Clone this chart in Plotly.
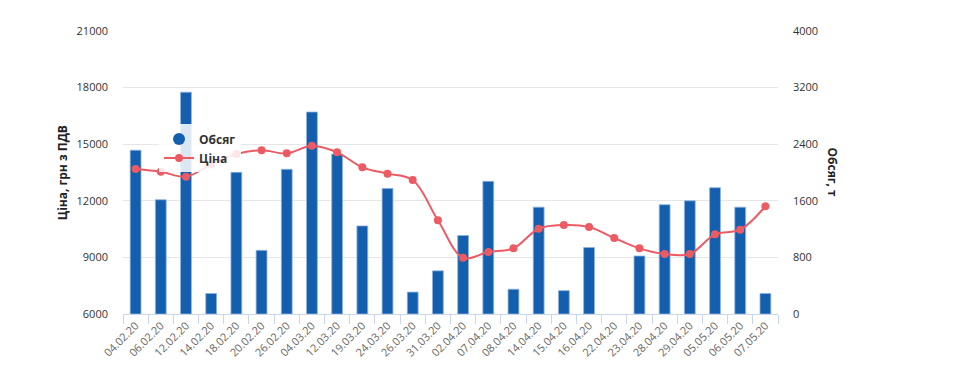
import plotly.graph_objects as go

dates = ["04.02.20", "06.02.20", "12.02.20", "14.02.20", "18.02.20", "20.02.20",
         "26.02.20", "04.03.20", "12.03.20", "19.03.20", "24.03.20", "26.03.20",
         "31.03.20", "02.04.20", "07.04.20", "08.04.20", "14.04.20", "15.04.20",
         "16.04.20", "22.04.20", "23.04.20", "28.04.20", "29.04.20", "05.05.20",
         "06.05.20", "07.05.20"]

volume = [2315, 1615, 3135, 290, 2005, 900, 2045, 2855, 2260, 1245, 1775, 310,
          610, 1110, 1875, 350, 1510, 330, 940, None, 820, 1545, 1600, 1785,
          1510, 290]

price = [13690, 13545, 13280, 13930, 14480, 14675, 14515, 14920, 14570, 13775,
         13440, 13100, 10965, 8985, 9285, 9480, 10520, 10715, 10610, 10030,
         9480, 9180, 9180, 10225, 10470, 11710]

left_ticks = [6000, 9000, 12000, 15000, 18000, 21000]
right_ticks = [0, 800, 1600, 2400, 3200, 4000]

BAR = "#135fad"
LINE = "#ec5b63"

fig = go.Figure()

# bars on the primary (right-hand) axis so the line layer is drawn above them
fig.add_trace(go.Bar(
    x=dates, y=volume, yaxis="y", name="Обсяг", showlegend=False,
    width=0.43, marker=dict(color=BAR, line=dict(color="#8fb3e0", width=0.8)),
))

fig.add_trace(go.Scatter(
    x=[dates[0]], y=[None], yaxis="y", name="Обсяг", mode="markers",
    marker=dict(color=BAR, size=12, symbol="circle"), showlegend=True,
))

fig.add_trace(go.Scatter(
    x=dates, y=price, yaxis="y2", name="Ціна", mode="lines+markers",
    line=dict(color=LINE, width=2, shape="spline", smoothing=1.0),
    marker=dict(color=LINE, size=8),
))

fig.update_layout(
    width=965, height=382,
    margin=dict(l=123, r=187, t=31, b=68),
    paper_bgcolor="white", plot_bgcolor="white",
    font=dict(family="Open Sans", size=11, color="#333333"),
    xaxis=dict(
        type="category", tickangle=-45, tickfont=dict(color="#666666", size=11),
        showgrid=False, showline=True, linecolor="#ccd6eb", linewidth=1,
        ticks="outside", tickson="boundaries", ticklen=9, tickcolor="#ccd6eb",
        range=[-0.5, len(dates) - 0.5],
    ),
    yaxis=dict(
        range=[0, 4000], tickvals=right_ticks, ticktext=[str(v) for v in right_ticks],
        side="right", showgrid=True, gridcolor="#e6e6e6", gridwidth=1,
        zeroline=False, showline=False, ticks="", ticklabelstandoff=14,
    ),
    yaxis2=dict(
        range=[6000, 21000], tickvals=left_ticks, ticktext=[str(v) for v in left_ticks],
        overlaying="y", side="left", showgrid=False, zeroline=False,
        showline=False, ticks="", ticklabelstandoff=14,
    ),
    legend=dict(
        x=0.055, y=0.67, xanchor="left", yanchor="top",
        bgcolor="rgba(255,255,255,0.85)", borderwidth=0,
        font=dict(size=12, color="#333333", family="Open Sans", weight="bold"),
        itemwidth=30, tracegroupgap=0,
    ),
    annotations=[
        dict(text="<b>Ціна, грн з ПДВ</b>", xref="paper", yref="paper",
             x=-0.092, y=0.5, xanchor="center", yanchor="middle",
             textangle=-90, showarrow=False,
             font=dict(size=12, color="#222222")),
        dict(text="<b>Обсяг, т</b>", xref="paper", yref="paper",
             x=1.0825, y=0.5, xanchor="center", yanchor="middle",
             textangle=90, showarrow=False,
             font=dict(size=12, color="#222222")),
    ],
)

fig.write_html("out.html", config={"displayModeBar": False},
               post_script="document.body.style.margin='0';")
